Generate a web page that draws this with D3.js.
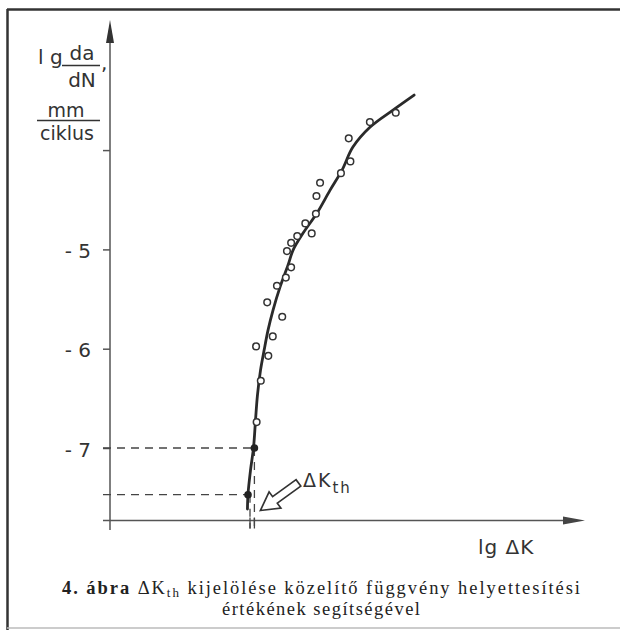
<!DOCTYPE html>
<html>
<head>
<meta charset="utf-8">
<script src="https://cdn.jsdelivr.net/npm/d3@7"></script>
<style>
  body { margin: 0; background: #fff; }
  svg { display: block; }
  .lab { font-family: "DejaVu Sans", sans-serif; fill: #333; }
  .cap { font-family: "Liberation Serif", "Times New Roman", serif; fill: #222; }
</style>
</head>
<body>
<script>
// fitted (approximating) curve, lg dK vs lg da/dN
const curveX = [0.694, 0.696, 0.705, 0.716, 0.723, 0.730, 0.741, 0.754, 0.768, 0.786, 0.811,
                0.840, 0.858, 0.894, 0.944, 0.991, 1.034, 1.073, 1.135, 1.217, 1.293];
const curveY = [-7.615, -7.464, -7.223, -6.991, -6.719, -6.467, -6.216, -6.014, -5.813, -5.611, -5.380,
                -5.158, -5.007, -4.836, -4.634, -4.403, -4.201, -3.970, -3.768, -3.597, -3.446];

// measured points
const pointX = [1.227, 1.134, 1.058, 1.064, 1.030, 0.955, 0.942, 0.940, 0.902, 0.925, 0.873, 0.851,
                0.836, 0.851, 0.832, 0.800, 0.765, 0.819, 0.785, 0.725, 0.769, 0.742, 0.727];
const pointY = [-3.624, -3.718, -3.882, -4.114, -4.232, -4.329, -4.463, -4.641, -4.738, -4.839, -4.866, -4.934,
                -5.017, -5.181, -5.284, -5.366, -5.533, -5.679, -5.876, -5.977, -6.072, -6.323, -6.739];

// substitution values (filled dots) used for dK_th
const markX = [0.696, 0.719];
const markY = [-7.47, -7.0];

const yTicks = [-4, -5, -6, -7];

const width = 620, height = 630;

const svg = d3.select("body").append("svg")
    .attr("width", width)
    .attr("height", height);

// frame of the scanned figure
svg.append("line").attr("x1", 7).attr("x2", 620).attr("y1", 9.5).attr("y2", 9.5)
    .attr("stroke", "#333").attr("stroke-width", 2.5);
svg.append("line").attr("x1", 7.5).attr("x2", 7.5).attr("y1", 9).attr("y2", 630)
    .attr("stroke", "#333").attr("stroke-width", 2.5);
svg.append("line").attr("x1", 7).attr("x2", 620).attr("y1", 628).attr("y2", 628)
    .attr("stroke", "#bbb").attr("stroke-width", 1.5);

const x = d3.scaleLinear().domain([0.2, 1.9]).range([110, 583]);
const y = d3.scaleLinear().domain([-7.73, -2.69]).range([520.5, 20]);

const ax = "#555";

// y axis with arrow
const yAxis = svg.append("g")
    .attr("transform", "translate(" + x(0.2) + ",0)")
    .call(d3.axisLeft(y).tickValues(yTicks).tickSize(7).tickPadding(12)
        .tickFormat(d => d === -4 ? "" : "- " + Math.abs(d)));
yAxis.select(".domain").remove();
yAxis.selectAll(".tick line").attr("stroke", ax).attr("stroke-width", 1.5);
yAxis.selectAll(".tick text")
    .attr("class", "lab")
    .attr("font-size", 20)
    .attr("dy", "0.4em");

svg.append("line")
    .attr("x1", x(0.2)).attr("x2", x(0.2))
    .attr("y1", 40).attr("y2", 530)
    .attr("stroke", ax).attr("stroke-width", 1.5);
svg.append("path")
    .attr("d", d3.line()([[x(0.2), 20], [x(0.2) - 4, 43], [x(0.2) + 4, 43]]) + "Z")
    .attr("fill", "#333");

// x axis with arrow
svg.append("line")
    .attr("x1", 103).attr("x2", 568)
    .attr("y1", y(-7.73)).attr("y2", y(-7.73))
    .attr("stroke", ax).attr("stroke-width", 1.5);
svg.append("path")
    .attr("d", d3.line()([[585, y(-7.73)], [563, y(-7.73) - 4], [563, y(-7.73) + 4]]) + "Z")
    .attr("fill", "#444");

// dashed guides to the substitution values
const guides = svg.append("g")
    .attr("stroke", "#444").attr("stroke-width", 1.3).attr("stroke-dasharray", "8,6");
markX.forEach((mx, i) => {
    const vx = x(mx) + (i === 0 ? 2 : 0);
    guides.append("line")
        .attr("x1", 103).attr("x2", x(mx))
        .attr("y1", y(markY[i])).attr("y2", y(markY[i]));
    guides.append("line")
        .attr("x1", vx).attr("x2", vx)
        .attr("y1", y(markY[i])).attr("y2", y(-7.73) + 8);
    svg.append("line")
        .attr("x1", vx).attr("x2", vx)
        .attr("y1", y(-7.73) - 3).attr("y2", y(-7.73) + 8)
        .attr("stroke", "#444").attr("stroke-width", 1.3);
});

// fitted curve
svg.append("path")
    .datum(curveX.map((v, i) => [v, curveY[i]]))
    .attr("fill", "none")
    .attr("stroke", "#2a2a2a")
    .attr("stroke-width", 2.8)
    .attr("stroke-linecap", "round")
    .attr("d", d3.line().x(d => x(d[0])).y(d => y(d[1])).curve(d3.curveCatmullRom));

// measured points
svg.append("g")
    .selectAll("circle")
    .data(pointX.map((v, i) => [v, pointY[i]]))
    .join("circle")
        .attr("cx", d => x(d[0]))
        .attr("cy", d => y(d[1]))
        .attr("r", 3.3)
        .attr("fill", "#fff")
        .attr("stroke", "#333")
        .attr("stroke-width", 1.5);

svg.append("g")
    .selectAll("circle")
    .data(markX.map((v, i) => [v, markY[i]]))
    .join("circle")
        .attr("cx", d => x(d[0]))
        .attr("cy", d => y(d[1]))
        .attr("r", 3.8)
        .attr("fill", "#222");

// hollow arrow pointing at dK_th
const tip = [x(markX[1]) + 6, y(-7.73) - 10];
const arrowPts = [[0, 0], [-18, -10], [-18, -4], [-47, -4], [-47, 4], [-18, 4], [-18, 10]];
svg.append("path")
    .attr("d", d3.line()(arrowPts) + "Z")
    .attr("transform", "translate(" + tip[0] + "," + tip[1] + ") rotate(144)")
    .attr("fill", "#fff")
    .attr("stroke", "#333")
    .attr("stroke-width", 1.7)
    .attr("stroke-linejoin", "miter");

const dk = svg.append("text").attr("class", "lab")
    .attr("x", 303).attr("y", 487).attr("font-size", 19).attr("letter-spacing", 2);
dk.append("tspan").text("\u0394K");
dk.append("tspan").attr("font-size", 15).attr("dy", 6).attr("dx", 0).text("th");

// axis titles
svg.append("text").attr("class", "lab").attr("x", 38).attr("y", 64).attr("font-size", 20).text("l g");
svg.append("text").attr("class", "lab").attr("x", 82).attr("y", 60).attr("font-size", 20)
    .attr("text-anchor", "middle").text("da");
svg.append("line").attr("x1", 62).attr("x2", 100).attr("y1", 65.5).attr("y2", 65.5)
    .attr("stroke", "#333").attr("stroke-width", 1.6);
svg.append("text").attr("class", "lab").attr("x", 82).attr("y", 87).attr("font-size", 20)
    .attr("text-anchor", "middle").text("dN");
svg.append("text").attr("class", "lab").attr("x", 101).attr("y", 70).attr("font-size", 20).text(",");

svg.append("text").attr("class", "lab").attr("x", 66).attr("y", 117).attr("font-size", 19)
    .attr("text-anchor", "middle").text("mm");
svg.append("line").attr("x1", 37).attr("x2", 100).attr("y1", 120.5).attr("y2", 120.5)
    .attr("stroke", "#333").attr("stroke-width", 1.6);
svg.append("text").attr("class", "lab").attr("x", 67).attr("y", 140).attr("font-size", 19)
    .attr("text-anchor", "middle").text("ciklus");

svg.append("text").attr("class", "lab").attr("x", 478).attr("y", 554).attr("font-size", 20)
    .attr("letter-spacing", 1).text("lg \u0394K");

// caption
const c1 = svg.append("text").attr("class", "cap").attr("x", 321).attr("y", 594)
    .attr("font-size", 18.5).attr("text-anchor", "middle")
    .attr("textLength", 518).attr("lengthAdjust", "spacing");
c1.append("tspan").attr("font-weight", "bold").text("4. ábra ");
c1.append("tspan").text("\u0394K");
c1.append("tspan").attr("font-size", 13).attr("dy", 3).text("th");
c1.append("tspan").attr("dy", -3).text(" kijelölése közelítő függvény helyettesítési");
svg.append("text").attr("class", "cap").attr("x", 321).attr("y", 615)
    .attr("font-size", 18.5).attr("text-anchor", "middle")
    .attr("textLength", 198).attr("lengthAdjust", "spacing")
    .text("értékének segítségével");
</script>
</body>
</html>
